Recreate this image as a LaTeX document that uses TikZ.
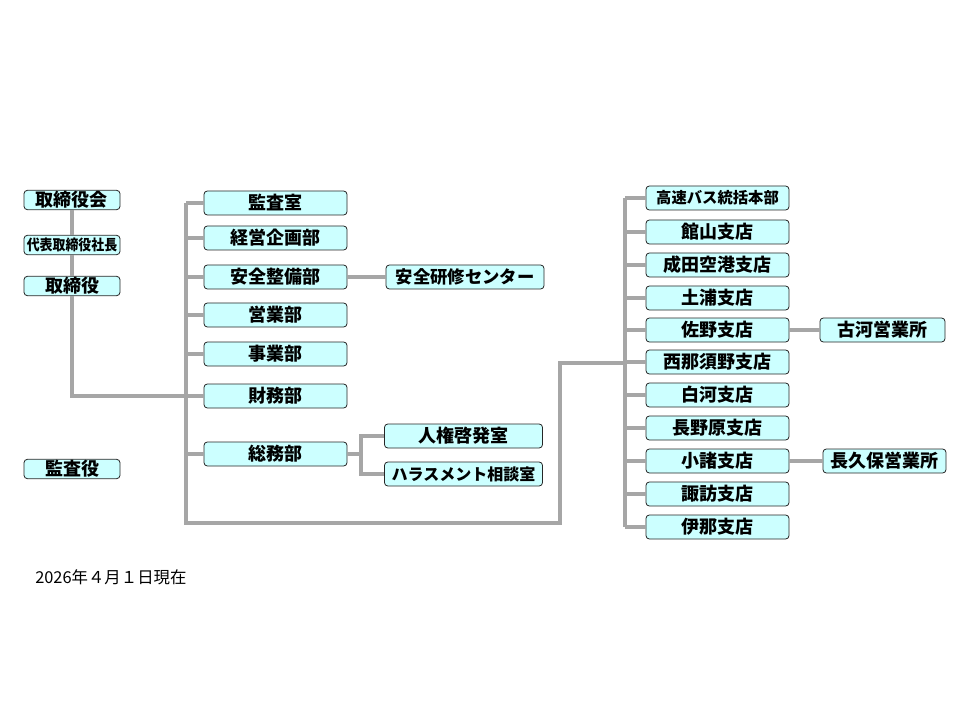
\documentclass[tikz,border=0pt]{standalone}
\usepackage{fontspec}
\setmainfont{Noto Sans CJK JP}
\definecolor{boxfill}{RGB}{204,255,255}
\definecolor{linegray}{RGB}{166,166,166}
\begin{document}
\begin{tikzpicture}[x=0.75pt,y=-0.75pt,
  box/.style={draw=black!85,line width=0.6pt,fill=boxfill,rounded corners=2.5pt,
    inner sep=0pt,minimum height=18pt,font=\bfseries\fontsize{13.5}{15}\selectfont},
  boxL/.style={box,minimum width=72pt,minimum height=14.5pt},
  boxM/.style={box,minimum width=107.25pt},
  boxS/.style={box,minimum width=118.5pt},
  conn/.style={draw=linegray,line width=2.4pt}]
\useasboundingbox (0,0) rectangle (960,720);
% left column
\node[boxL] (torikai) at (72,200) {取締役会};
\node[boxL] (shacho) at (72,245) {\scalebox{0.88}[1]{\fontsize{11}{12}\selectfont 代表取締役社長}};
\node[boxL] (tori) at (72,286) {取締役};
\node[boxL] (kansayaku) at (72,469) {監査役};
% middle column
\node[boxM] (m1) at (275.5,203) {監査室};
\node[boxM] (m2) at (275.5,238) {経営企画部};
\node[boxM] (m3) at (275.5,277) {安全整備部};
\node[boxM] (m4) at (275.5,315) {営業部};
\node[boxM] (m5) at (275.5,354) {事業部};
\node[boxM] (m6) at (275.5,396) {財務部};
\node[boxM] (m7) at (275.5,454) {総務部};
\node[boxS] (anzen) at (465,277) {\fontsize{13}{14}\selectfont 安全研修センター};
\node[boxS] (jinken) at (463.5,436) {人権啓発室};
\node[boxS] (hara) at (463.5,474) {\fontsize{12}{13}\selectfont ハラスメント相談室};
% right column
\node[boxM] (r1) at (717.5,198) {\fontsize{11.5}{13}\selectfont 高速バス統括本部};
\node[boxM] (r2) at (717.5,232) {館山支店};
\node[boxM] (r3) at (717.5,265) {成田空港支店};
\node[boxM] (r4) at (717.5,298) {土浦支店};
\node[boxM] (r5) at (717.5,330) {佐野支店};
\node[boxM] (r6) at (717.5,362) {西那須野支店};
\node[boxM] (r7) at (717.5,395) {白河支店};
\node[boxM] (r8) at (717.5,428) {長野原支店};
\node[boxM] (r9) at (717.5,461) {小諸支店};
\node[boxM] (r10) at (717.5,494) {諏訪支店};
\node[boxM] (r11) at (717.5,527) {伊那支店};
\node[box,minimum width=93.75pt] (koga) at (882.5,330) {古河営業所};
\node[box,minimum width=92.25pt] (nagakubo) at (884.5,461) {長久保営業所};
% footer
\node[anchor=west,inner sep=0pt,font=\fontsize{12.3}{14}\selectfont] (date) at (35,577) {2026年４月１日現在};
% connectors
\coordinate (bL) at (186,0);
\coordinate (bR) at (625,0);
\coordinate (cBot) at (186,523);
\coordinate (cMid) at (560,523);
\coordinate (cTop) at (560,363);
\begin{scope}[conn]
\draw (torikai.south) -- (shacho.north);
\draw (shacho.south) -- (tori.north);
\draw (tori.south) |- (m6.west);
\draw (m1.west -| bL) -- (cBot) -- (cMid) -- (cTop) -- (cTop -| bR);
\foreach \n in {m1,m2,m3,m4,m5,m6,m7} \draw (\n.west) -- (\n.west -| bL);
\draw (m3.east) -- (anzen.west);
\coordinate (sj) at (361,454);
\draw (m7.east) -- (sj);
\draw (jinken.west) -| (sj) |- (hara.west);
\draw (r1.west -| bR) -- (r11.west -| bR);
\foreach \n in {r1,r2,r3,r4,r5,r6,r7,r8,r9,r10,r11} \draw (\n.west) -- (\n.west -| bR);
\draw (r5.east) -- (koga.west);
\draw (r9.east) -- (nagakubo.west);
\end{scope}
\end{tikzpicture}
\end{document}
